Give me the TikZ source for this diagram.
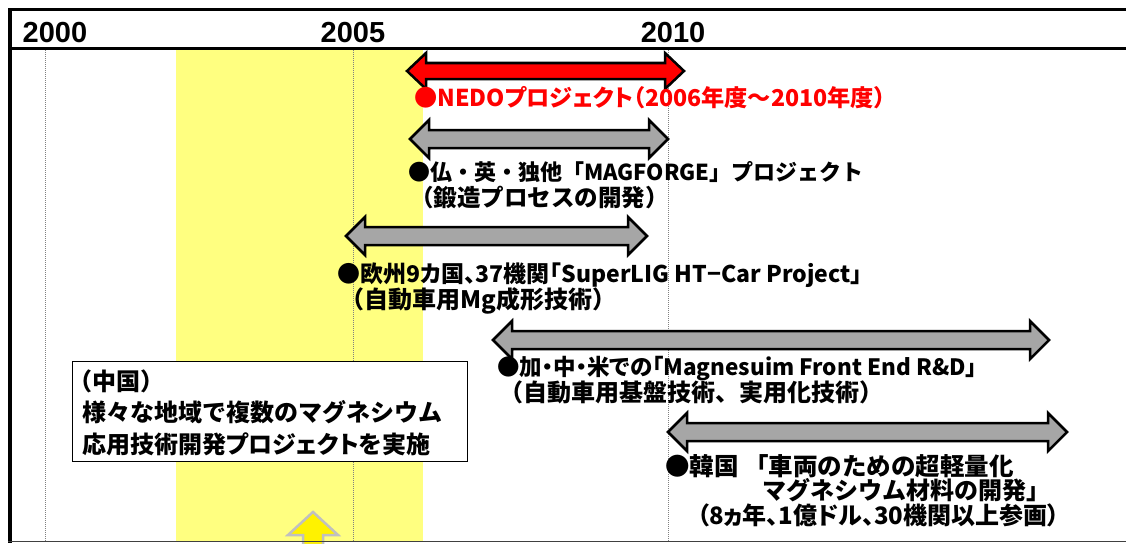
\documentclass[tikz,border=0pt]{standalone}
\usepackage{fontspec}
\newfontfamily\jp{Noto Sans CJK JP}
\newfontfamily\jpp{Noto Sans CJK JP}[RawFeature=+palt]
\newfontfamily\yr{Liberation Sans}
\definecolor{bandyellow}{RGB}{255,255,128}
\definecolor{arrgray}{RGB}{166,166,166}
\definecolor{framegray}{RGB}{64,64,64}
\newcommand{\DArrow}[6]{%
  \draw[#6] (#1,#3) -- ({#1+19},{#3-#4}) -- ({#1+19},{#3-#5}) -- ({#2-19},{#3-#5})
    -- ({#2-19},{#3-#4}) -- (#2,#3) -- ({#2-19},{#3+#4}) -- ({#2-19},{#3+#5})
    -- ({#1+19},{#3+#5}) -- ({#1+19},{#3+#4}) -- cycle;}
\begin{document}
\begin{tikzpicture}[x=1pt,y=-1pt,
  lbl/.style={anchor=base west, inner sep=0pt, font=\jp\bfseries\fontsize{#1}{#1}\selectfont},
  plbl/.style={anchor=base west, inner sep=0pt, font=\jpp\bfseries\fontsize{#1}{#1}\selectfont},
  year/.style={anchor=base, inner sep=0pt, font=\yr\bfseries\fontsize{29}{29}\selectfont},
  arr/.style={draw=black, line width=2.5pt, line join=miter, fill=arrgray},
  redarr/.style={draw=black, line width=2.5pt, line join=miter, fill=red},
  grid/.style={gray, line width=0.8pt, dash pattern=on 1pt off 1pt},
  frame/.style={black, line width=3pt},
  chinabox/.style={draw=black, line width=1.2pt, fill=white, anchor=north west,
    minimum width=395pt, minimum height=100pt, inner sep=0pt}]
\useasboundingbox (0,0) rectangle (1126,543);
% yellow band
\fill[bandyellow] (176,50) rectangle (423,541);
% year grid lines
\draw[grid] (45,50) -- (45,541);
\draw[grid] (353,50) -- (353,541);
\draw[grid] (668,50) -- (668,541);
% frame
\draw[frame] (8,10) -- (1126,10);
\draw[frame] (8,49) -- (1126,49);
\draw[black, line width=4pt] (9.5,8.5) -- (9.5,543);
% year labels
\node[year] (y2000) at (55,42) {2000};
\node[year] (y2005) at (353,42) {2005};
\node[year] (y2010) at (673,42) {2010};
% arrows
\DArrow{407}{684}{71}{18}{8}{redarr}
\DArrow{410}{668}{139}{19}{9}{arr}
\DArrow{346}{647}{236}{19}{9}{arr}
\DArrow{493}{1049}{340}{19}{9}{arr}
\DArrow{668}{1067}{432}{19}{9}{arr}
% labels
\node[plbl=23.2, text=red] (nedo) at (414,106.6) {●NEDOプロジェクト（2006年度～2010年度）};
\node[lbl=22] (mag1) at (408,180.1) {●仏・英・独他「MAGFORGE」プロジェクト};
\node[lbl=23.5] (mag2) at (410,206.7) {（鍛造プロセスの開発）};
\node[plbl=23] (sup1) at (337,282.5) {●欧州9カ国、37機関「SuperLIG HT−Car Project」};
\node[lbl=24] (sup2) at (340,308.9) {（自動車用Mg成形技術）};
\node[plbl=22.5] (fe1) at (497,375.3) {●加・中・米での「Magnesuim Front End R\&D」};
\node[lbl=24] (fe2) at (499,401.9) {（自動車用基盤技術、実用化技術）};
\node[lbl=24.5] (kr1) at (665,475) {●韓国 「車両のための超軽量化};
\node[lbl=24] (kr2) at (762,499.9) {マグネシウム材料の開発」};
\node[plbl=24] (kr3) at (697,524.9) {（8ヵ年、1億ドル、30機関以上参画）};
% China box
\node[chinabox] (china) at (72,361) {};
\node[lbl=24] (cn1) at (68,390.9) {（中国）};
\node[lbl=24] (cn2) at (82,421.9) {様々な地域で複数のマグネシウム};
\node[plbl=24] (cn3) at (82,453.9) {応用技術開発プロジェクトを実施};
% yellow up arrow
\draw[draw={rgb,255:red,192;green,192;blue,192}, line width=2.5pt, fill=yellow, line join=miter]
  (313,512) -- (338,535) -- (323,535) -- (323,545) -- (303,545) -- (303,535) -- (288,535) -- cycle;
% bottom line
\draw[framegray, line width=1.8pt] (8,541.5) -- (1126,541.5);
\end{tikzpicture}
\end{document}
